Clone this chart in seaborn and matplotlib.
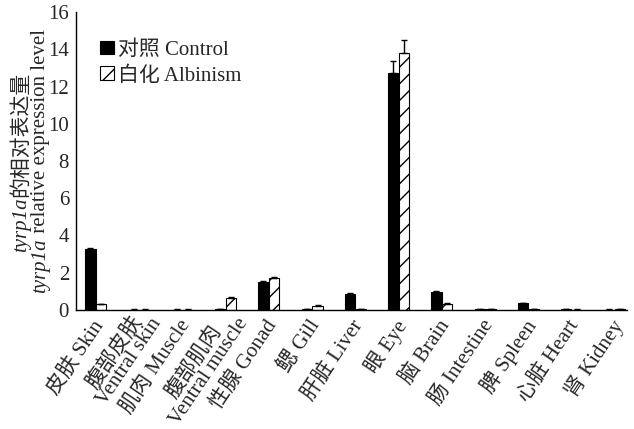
import matplotlib
matplotlib.use("Agg")
import matplotlib.pyplot as plt
import matplotlib.transforms as mtransforms
import seaborn as sns
import numpy as np
import pandas as pd

tissues = ["皮肤 Skin", "腹部皮肤\nVentral skin", "肌肉 Muscle", "腹部肌肉\nVentral muscle",
           "性腺 Gonad", "鳃 Gill", "肝脏 Liver", "眼 Eye", "脑 Brain", "肠 Intestine",
           "脾 Spleen", "心脏 Heart", "肾 Kidney"]
groups = ["对照 Control", "白化 Albinism"]
control = [3.28, 0.02, 0.02, 0.03, 1.50, 0.05, 0.85, 12.75, 0.95, 0.05, 0.35, 0.05, 0.02]
albinism = [0.30, 0.02, 0.02, 0.65, 1.72, 0.22, 0.05, 13.80, 0.30, 0.03, 0.03, 0.02, 0.03]
control_err = [0.04, 0.01, 0.01, 0.01, 0.05, 0.01, 0.07, 0.60, 0.06, 0.01, 0.03, 0.01, 0.01]
albinism_err = [0.03, 0.01, 0.01, 0.06, 0.06, 0.03, 0.01, 0.70, 0.05, 0.01, 0.01, 0.01, 0.01]
yticks = [0, 2, 4, 6, 8, 10, 12, 14, 16]

sns.set_style("white")
FAM = ["Liberation Serif", "Noto Sans CJK SC", "DejaVu Sans"]
plt.rcParams["font.family"] = FAM
plt.rcParams["hatch.linewidth"] = 1.0

df = pd.DataFrame({
    "tissue": tissues * 2,
    "group": [groups[0]] * len(tissues) + [groups[1]] * len(tissues),
    "value": control + albinism,
})

fig = plt.figure(figsize=(6.34, 4.29), dpi=100)
ax = fig.add_axes([76 / 634, 1 - 310 / 429, (627 - 76) / 634, (310 - 12) / 429])

sns.barplot(data=df, x="tissue", y="value", hue="group", order=tissues, hue_order=groups,
            palette=["black", "white"], edgecolor="black", linewidth=0.8,
            width=0.5, gap=0.05, errorbar=None, ax=ax, legend=False)

for p in ax.containers[1].patches:
    p.set_hatch("//")
    p.set_edgecolor("black")

for cont, err in zip(ax.containers, [control_err, albinism_err]):
    xs = [p.get_x() + p.get_width() / 2 for p in cont.patches]
    ys = [p.get_height() for p in cont.patches]
    ax.errorbar(xs, ys, yerr=[np.zeros(len(err)), err], fmt="none", ecolor="black",
                elinewidth=1, capsize=2.5, capthick=1)

ax.set_xlim(-0.46, 12.28)
ax.set_ylim(0, 16)
ax.set_yticks(yticks)
ax.set_yticklabels([str(t) for t in yticks], fontsize=15)
ax.set_xlabel("")
ax.set_ylabel("")
for s in ["top", "right"]:
    ax.spines[s].set_visible(False)
for s in ["left", "bottom"]:
    ax.spines[s].set_color("black")
    ax.spines[s].set_linewidth(1)
ax.tick_params(axis="y", direction="in", length=3, width=1, color="black", pad=5)
ax.tick_params(axis="x", length=0, pad=0)
ax.set_xticks(range(len(tissues)))
ax.set_xticklabels(tissues, rotation=56, ha="right", va="center", rotation_mode="anchor",
                   fontsize=15, multialignment="center", linespacing=0.85)
for lab in ax.get_xticklabels():
    if "\n" in lab.get_text():
        dx, dy = 11, -5
    else:
        dx, dy = 4, -12
    off = mtransforms.ScaledTranslation(dx / 100, dy / 100, fig.dpi_scale_trans)
    lab.set_transform(lab.get_transform() + off)

leg = ax.legend([ax.containers[0], ax.containers[1]], groups, loc="upper left",
                bbox_to_anchor=(0.044, 0.905), frameon=False, fontsize=15,
                handlelength=0.65, handleheight=0.65, handletextpad=0.2,
                borderpad=0, borderaxespad=0, labelspacing=0.3)

# y label: two lines with italic gene name
fig.canvas.draw()
renderer = fig.canvas.get_renderer()

def vline(x_px, segments, center_px):
    texts = []
    for s, style in segments:
        t = fig.text(0, 0, s, rotation=90, rotation_mode="anchor", ha="left", va="baseline",
                     fontsize=15, fontstyle=style, family=FAM, transform=None)
        texts.append(t)
    lengths = [t.get_window_extent(renderer).height for t in texts]
    total = sum(lengths)
    y = (429 - center_px) - total / 2
    for t, L in zip(texts, lengths):
        t.set_position((x_px, y))
        y += L

vline(26, [("tyrp1a", "italic"), ("的相对表达量", "normal")], 162)
vline(45, [("tyrp1a", "italic"), (" relative expression level", "normal")], 161)

fig.savefig("out.png", dpi=100)
